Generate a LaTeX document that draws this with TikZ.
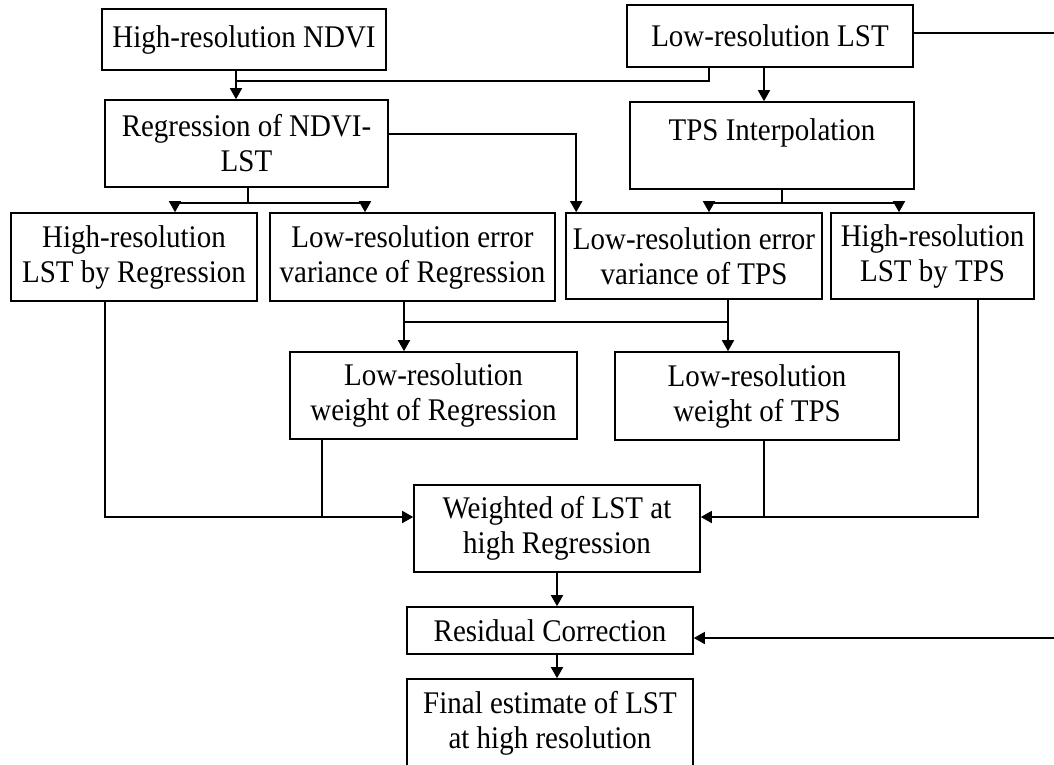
\documentclass[tikz,border=0pt]{standalone}
\usepackage{fontspec}
\setmainfont{Liberation Serif}[FakeStretch=0.92]
\usetikzlibrary{arrows.meta}

\begin{document}
\begin{tikzpicture}[x=1pt, y=-1pt, line width=1.6pt, >={Triangle[length=11pt,width=12pt]},
	stage/.style={draw, line width=1.6pt, align=center, inner sep=0pt, font=\fontsize{31.5}{35}\selectfont}]
	\useasboundingbox (0,0) rectangle (1054,765);

	\node [stage, minimum width=284pt, minimum height=61pt] (ndvi) at (244,39.5) {High-resolution NDVI};
	\node [stage, minimum width=286pt, minimum height=62pt] (lst) at (770,36) {Low-resolution LST};
	\node [stage, minimum width=283pt, minimum height=87pt] (reg) at (246.5,143.5) {Regression of NDVI-\\LST};
	\node [stage, minimum width=284pt, minimum height=87pt, text depth=32pt] (tps) at (772,145.5) {TPS Interpolation};

	\node [stage, minimum width=246pt, minimum height=88pt] (hreg) at (134,257) {High-resolution\\LST by Regression};
	\node [stage, minimum width=285pt, minimum height=88pt] (evreg) at (412.5,257) {Low-resolution error\\variance of Regression};
	\node [stage, minimum width=256pt, minimum height=86pt] (evtps) at (694,256) {Low-resolution error\\variance of TPS};
	\node [stage, minimum width=203pt, minimum height=86pt] (htps) at (932.5,256) {High-resolution\\LST by TPS};

	\node [stage, minimum width=287pt, minimum height=87pt] (wreg) at (433.5,395.5) {Low-resolution\\weight of Regression};
	\node [stage, minimum width=284pt, minimum height=88pt] (wtps) at (757,396) {Low-resolution\\weight of TPS};

	\node [stage, minimum width=286pt, minimum height=87pt] (wlst) at (557,528.5) {Weighted of LST at\\high Regression};
	\node [stage, minimum width=286pt, minimum height=47pt] (resid) at (550,630.5) {Residual Correction};
	\node [stage, minimum width=286pt, minimum height=88pt] (final) at (550,723) {Final estimate of LST\\at high resolution};

	\coordinate (j1) at (236,81);
	\draw ([xshift=-61pt]lst.south) |- (j1);
	\draw [->] (ndvi.south -| j1) -- (reg.north -| j1);
	\draw [->] ([xshift=-6pt]lst.south) -- ([xshift=-6pt]lst.south |- tps.north);
	\draw [->] ([yshift=9.5pt]reg.east) -| ([xshift=11pt]evtps.north west);

	\coordinate (rs) at (248,203);
	\draw (reg.south -| rs) -- (rs);
	\draw [->] (rs) -| ([xshift=41pt]hreg.north);
	\draw [->] (rs) -| ([xshift=-47.5pt]evreg.north);

	\coordinate (ts) at (782,203);
	\draw (tps.south -| ts) -- (ts);
	\draw [->] (ts) -| ([xshift=15pt]evtps.north);
	\draw [->] (ts) -| ([xshift=-33.5pt]htps.north);

	\coordinate (ea) at (404,322);
	\coordinate (eb) at (728,322);
	\draw [->] (evreg.south -| ea) -- (wreg.north -| ea);
	\draw [->] (evtps.south -| eb) -- (wtps.north -| eb);
	\draw (ea) -- (eb);

	\coordinate (wl) at (105,517);
	\coordinate (wa) at (322,517);
	\coordinate (wr) at (978,517);
	\coordinate (wb) at (764,517);
	\draw [->] (hreg.south -| wl) |- ([yshift=11.5pt]wlst.west);
	\draw (wreg.south -| wa) -- (wa);
	\draw [->] (htps.south -| wr) |- ([yshift=11.5pt]wlst.east);
	\draw (wtps.south -| wb) -- (wb);

	\draw [->] (wlst.south) -- (wlst.south |- resid.north);
	\draw [->] (resid.south -| wlst.south) -- (final.north -| wlst.south);

	\coordinate (rt) at (1062,33);
	\draw [->] ([yshift=3pt]lst.east) -- (rt) |- ([yshift=-7.5pt]resid.east);
\end{tikzpicture}
\end{document}
